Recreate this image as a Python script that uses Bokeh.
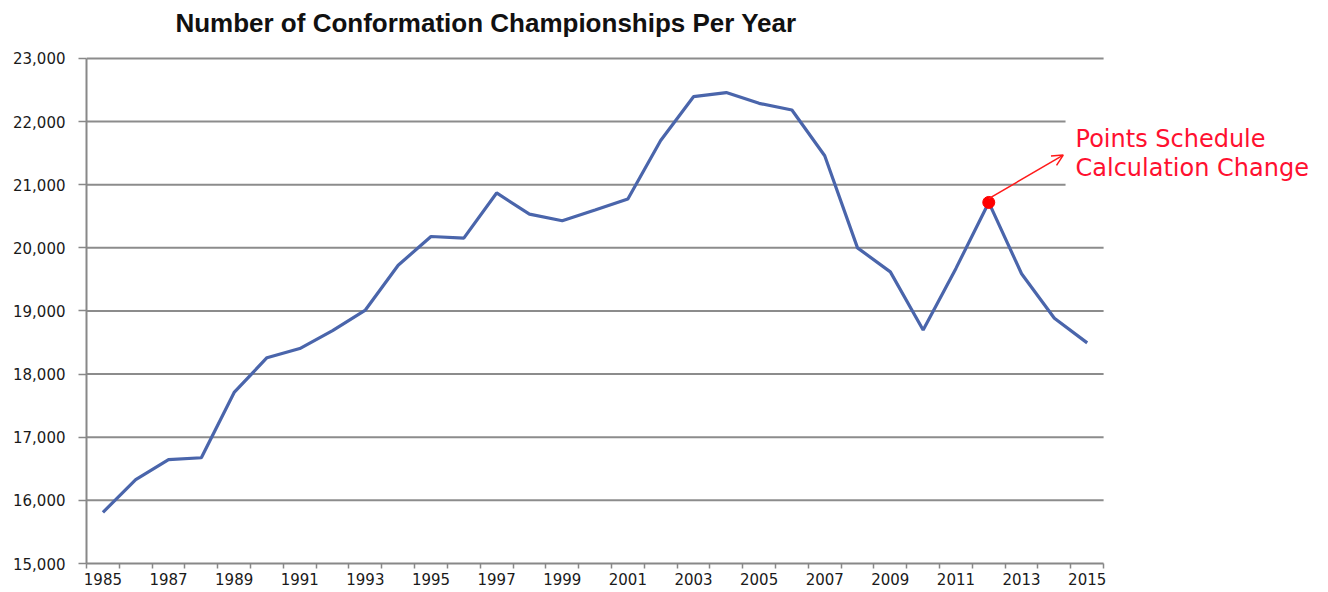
from bokeh.plotting import figure
from bokeh.models import Range1d, FixedTicker, NumeralTickFormatter, Label, Arrow, OpenHead
from bokeh.embed import file_html
from bokeh.resources import INLINE

years = list(range(1985, 2016))
championships = [15810, 16330, 16645, 16675, 17710, 18260, 18405, 18690, 19015, 19725,
                 20180, 20155, 20870, 20535, 20430, 20600, 20775, 21700, 22395, 22460,
                 22290, 22185, 21460, 20000, 19620, 18700, 19675, 20720, 19590, 18885,
                 18495]
y_ticks = list(range(15000, 23001, 1000))
x_label_years = list(range(1985, 2016, 2))
annotation_year = 2012
annotation_value = championships[years.index(annotation_year)]
annotation_text = "Points Schedule\nCalculation Change"
title_text = "Number of Conformation Championships Per Year"

x_lo = years[0] - 0.5
x_hi = years[-1] + 0.5

# frame spans the whole top so the title can sit inside it; axis bounds keep the chart area
p = figure(width=1320, height=590, output_backend="svg", toolbar_location=None,
           x_range=Range1d(x_lo, 2022.05), y_range=Range1d(y_ticks[0], 23918.8),
           min_border_left=86, min_border_right=2, min_border_top=0, min_border_bottom=27)
p.outline_line_color = None
p.background_fill_color = "white"

TEXT_FONT = "DejaVu Sans"

p.xaxis.bounds = (x_lo, x_hi)
p.xaxis.ticker = FixedTicker(ticks=x_label_years, minor_ticks=[y - 0.5 for y in years] + [x_hi])
p.xaxis.major_tick_line_color = None
p.xaxis.major_tick_out = 5
p.xaxis.major_tick_in = 0
p.xaxis.minor_tick_line_color = "#888888"
p.xaxis.minor_tick_line_width = 1.5
p.xaxis.minor_tick_out = 5
p.xaxis.minor_tick_in = 0
p.xaxis.axis_line_color = "#888888"
p.xaxis.axis_line_width = 2
p.xaxis.major_label_text_font = TEXT_FONT
p.xaxis.major_label_text_font_size = "15px"
p.xaxis.major_label_text_color = "#1a1a1a"
p.xaxis.major_label_standoff = 4

p.yaxis.bounds = (y_ticks[0], y_ticks[-1])
p.yaxis.ticker = FixedTicker(ticks=y_ticks)
p.yaxis.formatter = NumeralTickFormatter(format="0,0")
p.yaxis.major_tick_line_color = "#888888"
p.yaxis.major_tick_line_width = 1.5
p.yaxis.major_tick_out = 8
p.yaxis.major_tick_in = 0
p.yaxis.minor_tick_line_color = None
p.yaxis.axis_line_color = "#888888"
p.yaxis.axis_line_width = 2
p.yaxis.major_label_text_font = TEXT_FONT
p.yaxis.major_label_text_font_size = "15px"
p.yaxis.major_label_text_color = "#1a1a1a"
p.yaxis.major_label_standoff = 13

p.xgrid.visible = False
p.ygrid.visible = False
p.segment(x0=[x_lo] * (len(y_ticks) - 1), y0=y_ticks[1:],
          x1=[x_hi] * (len(y_ticks) - 1), y1=y_ticks[1:],
          line_color="#8c8c8c", line_width=2)

p.line(years, championships, line_color="#4a65ab", line_width=3.2)

p.add_layout(Label(x=1987.21, y=23570, text=title_text, text_color="#111111",
                   text_font="Liberation Sans", text_font_size="26px", text_font_style="bold",
                   text_baseline="alphabetic", text_align="left"))

label = Label(x=2014.34, y=22105, text=annotation_text, text_color="#ff1030",
              text_font=TEXT_FONT, text_font_size="24px",
              text_baseline="top", text_align="left", text_line_height=1.05,
              background_fill_color="white", padding=10)
p.add_layout(label)

p.add_layout(Arrow(end=OpenHead(size=11, line_color="#ff1a1a", line_width=1.5),
                   x_start=annotation_year, y_start=annotation_value + 60,
                   x_end=2014.27, y_end=21470, line_color="#ff1a1a", line_width=1.5))
p.scatter([annotation_year], [annotation_value], size=12, color="#ff0000")

open("out.html", "w").write(file_html(p, INLINE))
